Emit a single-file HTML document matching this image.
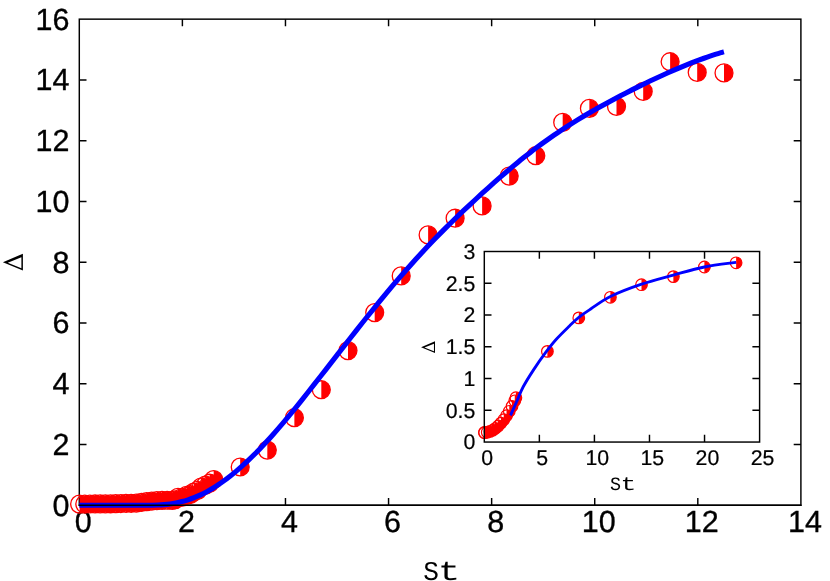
<!DOCTYPE html>
<html>
<head>
<meta charset="utf-8">
<title>Delta vs St</title>
<style>
html,body{margin:0;padding:0;background:#fff;}
body{width:830px;height:581px;overflow:hidden;font-family:"Liberation Sans",sans-serif;}
svg{display:block;}
</style>
</head>
<body>
<svg width="830" height="581" viewBox="0 0 830 581">
<rect width="830" height="581" fill="#fff"/>
<g stroke="#000" stroke-width="1.45" fill="none" stroke-linecap="butt">
<rect x="79.3" y="19.15" width="721.6" height="486.1"/>
<path d="M182.39,505.25 v-7.2 M182.39,19.15 v7.2 M285.47,505.25 v-7.2 M285.47,19.15 v7.2 M388.56,505.25 v-7.2 M388.56,19.15 v7.2 M491.64,505.25 v-7.2 M491.64,19.15 v7.2 M594.73,505.25 v-7.2 M594.73,19.15 v7.2 M697.81,505.25 v-7.2 M697.81,19.15 v7.2 M79.3,444.49 h7.2 M800.9,444.49 h-7.2 M79.3,383.73 h7.2 M800.9,383.73 h-7.2 M79.3,322.96 h7.2 M800.9,322.96 h-7.2 M79.3,262.2 h7.2 M800.9,262.2 h-7.2 M79.3,201.44 h7.2 M800.9,201.44 h-7.2 M79.3,140.67 h7.2 M800.9,140.67 h-7.2 M79.3,79.91 h7.2 M800.9,79.91 h-7.2"/>
</g>
<g style="filter:grayscale(1);text-rendering:geometricPrecision" font-family="'Liberation Sans', sans-serif" font-size="30.5" fill="#000" stroke="#000" stroke-width="0.35">
<text x="69.4" y="515.65" text-anchor="end">0</text>
<text x="69.4" y="454.89" text-anchor="end">2</text>
<text x="69.4" y="394.12" text-anchor="end">4</text>
<text x="69.4" y="333.36" text-anchor="end">6</text>
<text x="69.4" y="272.6" text-anchor="end">8</text>
<text x="69.4" y="211.84" text-anchor="end">10</text>
<text x="69.4" y="151.07" text-anchor="end">12</text>
<text x="69.4" y="90.31" text-anchor="end">14</text>
<text x="69.4" y="29.55" text-anchor="end">16</text>
<text x="83.3" y="531.5" text-anchor="middle">0</text>
<text x="186.39" y="531.5" text-anchor="middle">2</text>
<text x="289.47" y="531.5" text-anchor="middle">4</text>
<text x="392.56" y="531.5" text-anchor="middle">6</text>
<text x="495.64" y="531.5" text-anchor="middle">8</text>
<text x="598.73" y="531.5" text-anchor="middle">10</text>
<text x="701.81" y="531.5" text-anchor="middle">12</text>
<text x="804.9" y="531.5" text-anchor="middle">14</text>
</g>
<g>
<path d="M79.6,495.15 A8.95,8.95 0 0 1 79.6,513.05 Z" fill="#f00"/><circle cx="79.6" cy="504.1" r="8.95" fill="none" stroke="#f00" stroke-width="1.3"/>
<path d="M84.75,495.1 A8.95,8.95 0 0 1 84.75,513 Z" fill="#f00"/><circle cx="84.75" cy="504.05" r="8.95" fill="none" stroke="#f00" stroke-width="1.3"/>
<path d="M89.9,495.05 A8.95,8.95 0 0 1 89.9,512.95 Z" fill="#f00"/><circle cx="89.9" cy="504" r="8.95" fill="none" stroke="#f00" stroke-width="1.3"/>
<path d="M95.05,495 A8.95,8.95 0 0 1 95.05,512.9 Z" fill="#f00"/><circle cx="95.05" cy="503.95" r="8.95" fill="none" stroke="#f00" stroke-width="1.3"/>
<path d="M100.2,494.95 A8.95,8.95 0 0 1 100.2,512.85 Z" fill="#f00"/><circle cx="100.2" cy="503.9" r="8.95" fill="none" stroke="#f00" stroke-width="1.3"/>
<path d="M105.35,494.9 A8.95,8.95 0 0 1 105.35,512.8 Z" fill="#f00"/><circle cx="105.35" cy="503.85" r="8.95" fill="none" stroke="#f00" stroke-width="1.3"/>
<path d="M110.5,494.84 A8.95,8.95 0 0 1 110.5,512.74 Z" fill="#f00"/><circle cx="110.5" cy="503.79" r="8.95" fill="none" stroke="#f00" stroke-width="1.3"/>
<path d="M115.65,494.72 A8.95,8.95 0 0 1 115.65,512.62 Z" fill="#f00"/><circle cx="115.65" cy="503.67" r="8.95" fill="none" stroke="#f00" stroke-width="1.3"/>
<path d="M120.8,494.6 A8.95,8.95 0 0 1 120.8,512.5 Z" fill="#f00"/><circle cx="120.8" cy="503.55" r="8.95" fill="none" stroke="#f00" stroke-width="1.3"/>
<path d="M125.95,494.48 A8.95,8.95 0 0 1 125.95,512.38 Z" fill="#f00"/><circle cx="125.95" cy="503.43" r="8.95" fill="none" stroke="#f00" stroke-width="1.3"/>
<path d="M131.1,494.36 A8.95,8.95 0 0 1 131.1,512.26 Z" fill="#f00"/><circle cx="131.1" cy="503.31" r="8.95" fill="none" stroke="#f00" stroke-width="1.3"/>
<path d="M136.25,494.21 A8.95,8.95 0 0 1 136.25,512.11 Z" fill="#f00"/><circle cx="136.25" cy="503.16" r="8.95" fill="none" stroke="#f00" stroke-width="1.3"/>
<path d="M141.4,493.48 A8.95,8.95 0 0 1 141.4,511.38 Z" fill="#f00"/><circle cx="141.4" cy="502.43" r="8.95" fill="none" stroke="#f00" stroke-width="1.3"/>
<path d="M146.55,492.74 A8.95,8.95 0 0 1 146.55,510.64 Z" fill="#f00"/><circle cx="146.55" cy="501.69" r="8.95" fill="none" stroke="#f00" stroke-width="1.3"/>
<path d="M151.7,492.11 A8.95,8.95 0 0 1 151.7,510.01 Z" fill="#f00"/><circle cx="151.7" cy="501.06" r="8.95" fill="none" stroke="#f00" stroke-width="1.3"/>
<path d="M156.85,491.69 A8.95,8.95 0 0 1 156.85,509.59 Z" fill="#f00"/><circle cx="156.85" cy="500.64" r="8.95" fill="none" stroke="#f00" stroke-width="1.3"/>
<path d="M162,491.34 A8.95,8.95 0 0 1 162,509.24 Z" fill="#f00"/><circle cx="162" cy="500.29" r="8.95" fill="none" stroke="#f00" stroke-width="1.3"/>
<path d="M167.15,491.29 A8.95,8.95 0 0 1 167.15,509.19 Z" fill="#f00"/><circle cx="167.15" cy="500.24" r="8.95" fill="none" stroke="#f00" stroke-width="1.3"/>
<path d="M172.2,491.35 A8.95,8.95 0 0 1 172.2,509.25 Z" fill="#f00"/><circle cx="172.2" cy="500.3" r="8.95" fill="none" stroke="#f00" stroke-width="1.3"/>
<path d="M175.1,490.8 A8.95,8.95 0 0 1 175.1,508.7 Z" fill="#f00"/><circle cx="175.1" cy="499.75" r="8.95" fill="none" stroke="#f00" stroke-width="1.3"/>
<path d="M178,488.45 A8.95,8.95 0 0 1 178,506.35 Z" fill="#f00"/><circle cx="178" cy="497.4" r="8.95" fill="none" stroke="#f00" stroke-width="1.3"/>
<path d="M182.35,488.3 A8.95,8.95 0 0 1 182.35,506.2 Z" fill="#f00"/><circle cx="182.35" cy="497.25" r="8.95" fill="none" stroke="#f00" stroke-width="1.3"/>
<path d="M186.7,486.35 A8.95,8.95 0 0 1 186.7,504.25 Z" fill="#f00"/><circle cx="186.7" cy="495.3" r="8.95" fill="none" stroke="#f00" stroke-width="1.3"/>
<path d="M190.3,485.6 A8.95,8.95 0 0 1 190.3,503.5 Z" fill="#f00"/><circle cx="190.3" cy="494.55" r="8.95" fill="none" stroke="#f00" stroke-width="1.3"/>
<path d="M193.9,483.05 A8.95,8.95 0 0 1 193.9,500.95 Z" fill="#f00"/><circle cx="193.9" cy="492" r="8.95" fill="none" stroke="#f00" stroke-width="1.3"/>
<path d="M197.55,481.45 A8.95,8.95 0 0 1 197.55,499.35 Z" fill="#f00"/><circle cx="197.55" cy="490.4" r="8.95" fill="none" stroke="#f00" stroke-width="1.3"/>
<path d="M201.2,478.05 A8.95,8.95 0 0 1 201.2,495.95 Z" fill="#f00"/><circle cx="201.2" cy="487" r="8.95" fill="none" stroke="#f00" stroke-width="1.3"/>
<path d="M205.5,476.15 A8.95,8.95 0 0 1 205.5,494.05 Z" fill="#f00"/><circle cx="205.5" cy="485.1" r="8.95" fill="none" stroke="#f00" stroke-width="1.3"/>
<path d="M209.6,474.25 A8.95,8.95 0 0 1 209.6,492.15 Z" fill="#f00"/><circle cx="209.6" cy="483.2" r="8.95" fill="none" stroke="#f00" stroke-width="1.3"/>
<path d="M213.7,470.55 A8.95,8.95 0 0 1 213.7,488.45 Z" fill="#f00"/><circle cx="213.7" cy="479.5" r="8.95" fill="none" stroke="#f00" stroke-width="1.3"/>
<path d="M240.2,458.05 A8.95,8.95 0 0 1 240.2,475.95 Z" fill="#f00"/><circle cx="240.2" cy="467" r="8.95" fill="none" stroke="#f00" stroke-width="1.3"/>
<path d="M267.3,441.15 A8.95,8.95 0 0 1 267.3,459.05 Z" fill="#f00"/><circle cx="267.3" cy="450.1" r="8.95" fill="none" stroke="#f00" stroke-width="1.3"/>
<path d="M294.4,408.75 A8.95,8.95 0 0 1 294.4,426.65 Z" fill="#f00"/><circle cx="294.4" cy="417.7" r="8.95" fill="none" stroke="#f00" stroke-width="1.3"/>
<path d="M321.3,380.75 A8.95,8.95 0 0 1 321.3,398.65 Z" fill="#f00"/><circle cx="321.3" cy="389.7" r="8.95" fill="none" stroke="#f00" stroke-width="1.3"/>
<path d="M348,341.65 A8.95,8.95 0 0 1 348,359.55 Z" fill="#f00"/><circle cx="348" cy="350.6" r="8.95" fill="none" stroke="#f00" stroke-width="1.3"/>
<path d="M374.7,303.65 A8.95,8.95 0 0 1 374.7,321.55 Z" fill="#f00"/><circle cx="374.7" cy="312.6" r="8.95" fill="none" stroke="#f00" stroke-width="1.3"/>
<path d="M401.2,266.95 A8.95,8.95 0 0 1 401.2,284.85 Z" fill="#f00"/><circle cx="401.2" cy="275.9" r="8.95" fill="none" stroke="#f00" stroke-width="1.3"/>
<path d="M428.1,225.95 A8.95,8.95 0 0 1 428.1,243.85 Z" fill="#f00"/><circle cx="428.1" cy="234.9" r="8.95" fill="none" stroke="#f00" stroke-width="1.3"/>
<path d="M455.1,209.25 A8.95,8.95 0 0 1 455.1,227.15 Z" fill="#f00"/><circle cx="455.1" cy="218.2" r="8.95" fill="none" stroke="#f00" stroke-width="1.3"/>
<path d="M482.1,196.95 A8.95,8.95 0 0 1 482.1,214.85 Z" fill="#f00"/><circle cx="482.1" cy="205.9" r="8.95" fill="none" stroke="#f00" stroke-width="1.3"/>
<path d="M509.2,167.15 A8.95,8.95 0 0 1 509.2,185.05 Z" fill="#f00"/><circle cx="509.2" cy="176.1" r="8.95" fill="none" stroke="#f00" stroke-width="1.3"/>
<path d="M535.8,146.75 A8.95,8.95 0 0 1 535.8,164.65 Z" fill="#f00"/><circle cx="535.8" cy="155.7" r="8.95" fill="none" stroke="#f00" stroke-width="1.3"/>
<path d="M562.7,113.45 A8.95,8.95 0 0 1 562.7,131.35 Z" fill="#f00"/><circle cx="562.7" cy="122.4" r="8.95" fill="none" stroke="#f00" stroke-width="1.3"/>
<path d="M589.4,99.45 A8.95,8.95 0 0 1 589.4,117.35 Z" fill="#f00"/><circle cx="589.4" cy="108.4" r="8.95" fill="none" stroke="#f00" stroke-width="1.3"/>
<path d="M616.5,97.45 A8.95,8.95 0 0 1 616.5,115.35 Z" fill="#f00"/><circle cx="616.5" cy="106.4" r="8.95" fill="none" stroke="#f00" stroke-width="1.3"/>
<path d="M643.2,82.45 A8.95,8.95 0 0 1 643.2,100.35 Z" fill="#f00"/><circle cx="643.2" cy="91.4" r="8.95" fill="none" stroke="#f00" stroke-width="1.3"/>
<path d="M670.1,52.75 A8.95,8.95 0 0 1 670.1,70.65 Z" fill="#f00"/><circle cx="670.1" cy="61.7" r="8.95" fill="none" stroke="#f00" stroke-width="1.3"/>
<path d="M697.2,63.45 A8.95,8.95 0 0 1 697.2,81.35 Z" fill="#f00"/><circle cx="697.2" cy="72.4" r="8.95" fill="none" stroke="#f00" stroke-width="1.3"/>
<path d="M724,63.95 A8.95,8.95 0 0 1 724,81.85 Z" fill="#f00"/><circle cx="724" cy="72.9" r="8.95" fill="none" stroke="#f00" stroke-width="1.3"/>
</g>
<path d="M79.3,505.2 C89.42,505.2 128.88,505.19 140,505.19 C151.12,505.19 144,505.2 146,505.2 C148,505.2 150,505.23 152,505.2 C154,505.17 156,505.14 158,505.04 C160,504.94 162,504.81 164,504.62 C166,504.44 168,504.21 170,503.93 C172,503.65 174,503.31 176,502.92 C178,502.52 180,502.08 182,501.56 C184,501.04 186,500.46 188,499.82 C190,499.17 192,498.46 194,497.67 C196,496.89 198,496.04 200,495.12 C202,494.2 204,493.21 206,492.15 C208,491.09 210,489.96 212,488.76 C214,487.56 216,486.3 218,484.97 C220,483.64 222,482.25 224,480.79 C226,479.34 228,477.82 230,476.25 C232,474.68 234,473.05 236,471.36 C238,469.68 240,467.94 242,466.15 C244,464.36 246,462.51 248,460.62 C250,458.73 252,456.78 254,454.79 C256,452.8 258,450.77 260,448.69 C262,446.61 264,444.48 266,442.31 C268,440.15 270,437.94 272,435.7 C274,433.45 276,431.17 278,428.86 C280,426.54 282,424.19 284,421.82 C286,419.45 288,417.04 290,414.62 C292,412.19 294,409.74 296,407.27 C298,404.8 300,402.32 302,399.82 C304,397.31 306,394.8 308,392.27 C310,389.74 312,387.2 314,384.66 C316,382.12 318,379.56 320,377 C322,374.44 324,371.88 326,369.31 C328,366.75 330,364.18 332,361.61 C334,359.04 336,356.47 338,353.9 C340,351.33 342,348.76 344,346.2 C346,343.64 348,341.08 350,338.52 C352,335.97 354,333.42 356,330.88 C358,328.34 360,325.81 362,323.28 C364,320.76 366,318.25 368,315.75 C370,313.25 372,310.76 374,308.29 C376,305.82 378,303.36 380,300.92 C382,298.48 384,296.05 386,293.65 C388,291.24 390,288.85 392,286.48 C394,284.11 396,281.75 398,279.42 C400,277.09 402,274.78 404,272.49 C406,270.2 408,267.93 410,265.69 C412,263.44 414,261.21 416,259.01 C418,256.81 420,254.63 422,252.47 C424,250.31 426,248.17 428,246.06 C430,243.95 432,241.86 434,239.79 C436,237.72 438,235.67 440,233.65 C442,231.62 444,229.62 446,227.63 C448,225.64 450,223.68 452,221.73 C454,219.78 456,217.85 458,215.93 C460,214.01 462,212.1 464,210.21 C466,208.32 468,206.44 470,204.57 C472,202.7 474,200.84 476,199 C478,197.15 480,195.31 482,193.49 C484,191.67 486,189.85 488,188.05 C490,186.25 492,184.47 494,182.69 C496,180.92 498,179.16 500,177.41 C502,175.67 504,173.94 506,172.23 C508,170.52 510,168.82 512,167.15 C514,165.48 516,163.82 518,162.19 C520,160.55 522,158.94 524,157.35 C526,155.76 528,154.19 530,152.64 C532,151.09 534,149.56 536,148.06 C538,146.56 540,145.08 542,143.62 C544,142.16 546,140.73 548,139.31 C550,137.9 552,136.51 554,135.14 C556,133.77 558,132.42 560,131.1 C562,129.77 564,128.46 566,127.17 C568,125.88 570,124.62 572,123.36 C574,122.11 576,120.88 578,119.66 C580,118.44 582,117.24 584,116.05 C586,114.86 588,113.69 590,112.53 C592,111.37 594,110.23 596,109.09 C598,107.96 600,106.84 602,105.73 C604,104.62 606,103.52 608,102.43 C610,101.35 612,100.27 614,99.2 C616,98.14 618,97.08 620,96.04 C622,94.99 624,93.95 626,92.93 C628,91.9 630,90.88 632,89.87 C634,88.87 636,87.87 638,86.88 C640,85.89 642,84.91 644,83.94 C646,82.97 648,82.01 650,81.06 C652,80.11 654,79.16 656,78.23 C658,77.3 660,76.38 662,75.47 C664,74.56 666,73.66 668,72.77 C670,71.88 672,71 674,70.14 C676,69.28 678,68.42 680,67.58 C682,66.74 684,65.92 686,65.11 C688,64.3 690,63.5 692,62.72 C694,61.94 696,61.17 698,60.42 C700,59.67 702,58.94 704,58.23 C706,57.52 708,56.82 710,56.15 C712,55.47 714,54.82 716,54.19 C718,53.56 720.68,52.76 722,52.36 C723.32,51.97 723.58,51.91 723.9,51.82" fill="none" stroke="#00f" stroke-width="5.1" stroke-linecap="butt" stroke-linejoin="round"/>
<path d="M78.58,505.25 H801.62" stroke="#000" stroke-width="1.45" fill="none"/>
<g style="filter:grayscale(1);text-rendering:geometricPrecision" font-family="'Liberation Mono', monospace" font-size="29" fill="#000"><text transform="translate(423.29,579.94) scale(0.9021,0.9348)" x="0" y="0">S</text><text transform="translate(437.88,579.99) scale(1.2724,0.9416)" x="0" y="0">t</text></g>
<path d="M2.9,262.35 L22.9,253.7 L22.9,270.6 Z M7.8,262.8 L21.4,257.3 L21.4,268.2 Z" fill="#000" fill-rule="evenodd"/>
<g>
<path d="M484.5,426.72 A5.8,5.8 0 0 1 484.5,438.32 Z" fill="#f00"/><circle cx="484.5" cy="432.52" r="5.8" fill="none" stroke="#f00" stroke-width="1.2"/>
<path d="M487.25,426.46 A5.8,5.8 0 0 1 487.25,438.06 Z" fill="#f00"/><circle cx="487.25" cy="432.26" r="5.8" fill="none" stroke="#f00" stroke-width="1.2"/>
<path d="M490.01,425.67 A5.8,5.8 0 0 1 490.01,437.27 Z" fill="#f00"/><circle cx="490.01" cy="431.47" r="5.8" fill="none" stroke="#f00" stroke-width="1.2"/>
<path d="M492.76,424.36 A5.8,5.8 0 0 1 492.76,435.96 Z" fill="#f00"/><circle cx="492.76" cy="430.16" r="5.8" fill="none" stroke="#f00" stroke-width="1.2"/>
<path d="M495.51,422.53 A5.8,5.8 0 0 1 495.51,434.13 Z" fill="#f00"/><circle cx="495.51" cy="428.33" r="5.8" fill="none" stroke="#f00" stroke-width="1.2"/>
<path d="M498.26,420.17 A5.8,5.8 0 0 1 498.26,431.77 Z" fill="#f00"/><circle cx="498.26" cy="425.97" r="5.8" fill="none" stroke="#f00" stroke-width="1.2"/>
<path d="M501.02,417.29 A5.8,5.8 0 0 1 501.02,428.89 Z" fill="#f00"/><circle cx="501.02" cy="423.09" r="5.8" fill="none" stroke="#f00" stroke-width="1.2"/>
<path d="M503.77,413.88 A5.8,5.8 0 0 1 503.77,425.48 Z" fill="#f00"/><circle cx="503.77" cy="419.68" r="5.8" fill="none" stroke="#f00" stroke-width="1.2"/>
<path d="M506.52,409.95 A5.8,5.8 0 0 1 506.52,421.55 Z" fill="#f00"/><circle cx="506.52" cy="415.75" r="5.8" fill="none" stroke="#f00" stroke-width="1.2"/>
<path d="M509.28,405.5 A5.8,5.8 0 0 1 509.28,417.1 Z" fill="#f00"/><circle cx="509.28" cy="411.3" r="5.8" fill="none" stroke="#f00" stroke-width="1.2"/>
<path d="M512.03,400.52 A5.8,5.8 0 0 1 512.03,412.12 Z" fill="#f00"/><circle cx="512.03" cy="406.32" r="5.8" fill="none" stroke="#f00" stroke-width="1.2"/>
<path d="M514.78,395.02 A5.8,5.8 0 0 1 514.78,406.62 Z" fill="#f00"/><circle cx="514.78" cy="400.82" r="5.8" fill="none" stroke="#f00" stroke-width="1.2"/>
<path d="M484.5,426.8 A5.8,5.8 0 0 1 484.5,438.4 Z" fill="#f00"/><circle cx="484.5" cy="432.6" r="5.8" fill="none" stroke="#f00" stroke-width="1.2"/>
<path d="M515.9,391.9 A5.8,5.8 0 0 1 515.9,403.5 Z" fill="#f00"/><circle cx="515.9" cy="397.7" r="5.8" fill="none" stroke="#f00" stroke-width="1.2"/>
<path d="M547.4,345.6 A5.8,5.8 0 0 1 547.4,357.2 Z" fill="#f00"/><circle cx="547.4" cy="351.4" r="5.8" fill="none" stroke="#f00" stroke-width="1.2"/>
<path d="M578.8,312.1 A5.8,5.8 0 0 1 578.8,323.7 Z" fill="#f00"/><circle cx="578.8" cy="317.9" r="5.8" fill="none" stroke="#f00" stroke-width="1.2"/>
<path d="M610.4,291.5 A5.8,5.8 0 0 1 610.4,303.1 Z" fill="#f00"/><circle cx="610.4" cy="297.3" r="5.8" fill="none" stroke="#f00" stroke-width="1.2"/>
<path d="M641.5,278.9 A5.8,5.8 0 0 1 641.5,290.5 Z" fill="#f00"/><circle cx="641.5" cy="284.7" r="5.8" fill="none" stroke="#f00" stroke-width="1.2"/>
<path d="M673.4,270.8 A5.8,5.8 0 0 1 673.4,282.4 Z" fill="#f00"/><circle cx="673.4" cy="276.6" r="5.8" fill="none" stroke="#f00" stroke-width="1.2"/>
<path d="M704.4,261.2 A5.8,5.8 0 0 1 704.4,272.8 Z" fill="#f00"/><circle cx="704.4" cy="267" r="5.8" fill="none" stroke="#f00" stroke-width="1.2"/>
<path d="M736.1,257 A5.8,5.8 0 0 1 736.1,268.6 Z" fill="#f00"/><circle cx="736.1" cy="262.8" r="5.8" fill="none" stroke="#f00" stroke-width="1.2"/>
</g>
<g stroke="#000" stroke-width="1.45" fill="none">
<rect x="484.3" y="251.5" width="275.3" height="190.55"/>
<path d="M539.36,442.05 v-7.2 M539.36,251.5 v7.2 M594.42,442.05 v-7.2 M594.42,251.5 v7.2 M649.48,442.05 v-7.2 M649.48,251.5 v7.2 M704.54,442.05 v-7.2 M704.54,251.5 v7.2 M484.3,410.29 h7.2 M759.6,410.29 h-7.2 M484.3,378.53 h7.2 M759.6,378.53 h-7.2 M484.3,346.77 h7.2 M759.6,346.77 h-7.2 M484.3,315.02 h7.2 M759.6,315.02 h-7.2 M484.3,283.26 h7.2 M759.6,283.26 h-7.2"/>
</g>
<path d="M510.5,415.4 C511.5,413.17 514.4,406.73 516.5,402 C518.6,397.27 520.23,392.4 523.1,387 C525.97,381.6 529.93,375.37 533.7,369.6 C537.47,363.83 541.93,357.47 545.7,352.4 C549.47,347.33 552.33,343.62 556.3,339.2 C560.27,334.78 565.75,329.55 569.5,325.9 C573.25,322.25 575.27,320.12 578.8,317.3 C582.33,314.48 585.43,312.47 590.7,309 C595.97,305.53 601.92,300.63 610.4,296.5 C618.88,292.37 631.1,287.77 641.6,284.2 C652.1,280.63 662.93,277.97 673.4,275.1 C683.87,272.23 693.95,269.12 704.4,267 C714.85,264.88 730.82,263.17 736.1,262.4" fill="none" stroke="#00f" stroke-width="2.85" stroke-linecap="butt" stroke-linejoin="round"/>
<g style="filter:grayscale(1);text-rendering:geometricPrecision" font-family="'Liberation Sans', sans-serif" font-size="21.3" fill="#000" stroke="#000" stroke-width="0.22">
<text x="475.3" y="449.4" text-anchor="end">0</text>
<text x="475.3" y="417.64" text-anchor="end">0.5</text>
<text x="475.3" y="385.88" text-anchor="end">1</text>
<text x="475.3" y="354.12" text-anchor="end">1.5</text>
<text x="475.3" y="322.37" text-anchor="end">2</text>
<text x="475.3" y="290.61" text-anchor="end">2.5</text>
<text x="475.3" y="258.85" text-anchor="end">3</text>
<text x="487.2" y="464.8" text-anchor="middle">0</text>
<text x="542.26" y="464.8" text-anchor="middle">5</text>
<text x="597.32" y="464.8" text-anchor="middle">10</text>
<text x="652.38" y="464.8" text-anchor="middle">15</text>
<text x="707.44" y="464.8" text-anchor="middle">20</text>
<text x="762.5" y="464.8" text-anchor="middle">25</text>
</g>
<g style="filter:grayscale(1);text-rendering:geometricPrecision" font-family="'Liberation Mono', monospace" font-size="19" fill="#000"><text transform="translate(610.09,489.62) scale(0.9659,0.9926)" x="0" y="0">S</text><text transform="translate(620.56,489.65) scale(1.3816,0.9998)" x="0" y="0">t</text></g>
<path d="M421.1,347.3 L435,341.3 L435,353.05 Z M424.5,347.6 L433.95,343.8 L433.95,351.35 Z" fill="#000" fill-rule="evenodd"/>
</svg>
</body>
</html>
